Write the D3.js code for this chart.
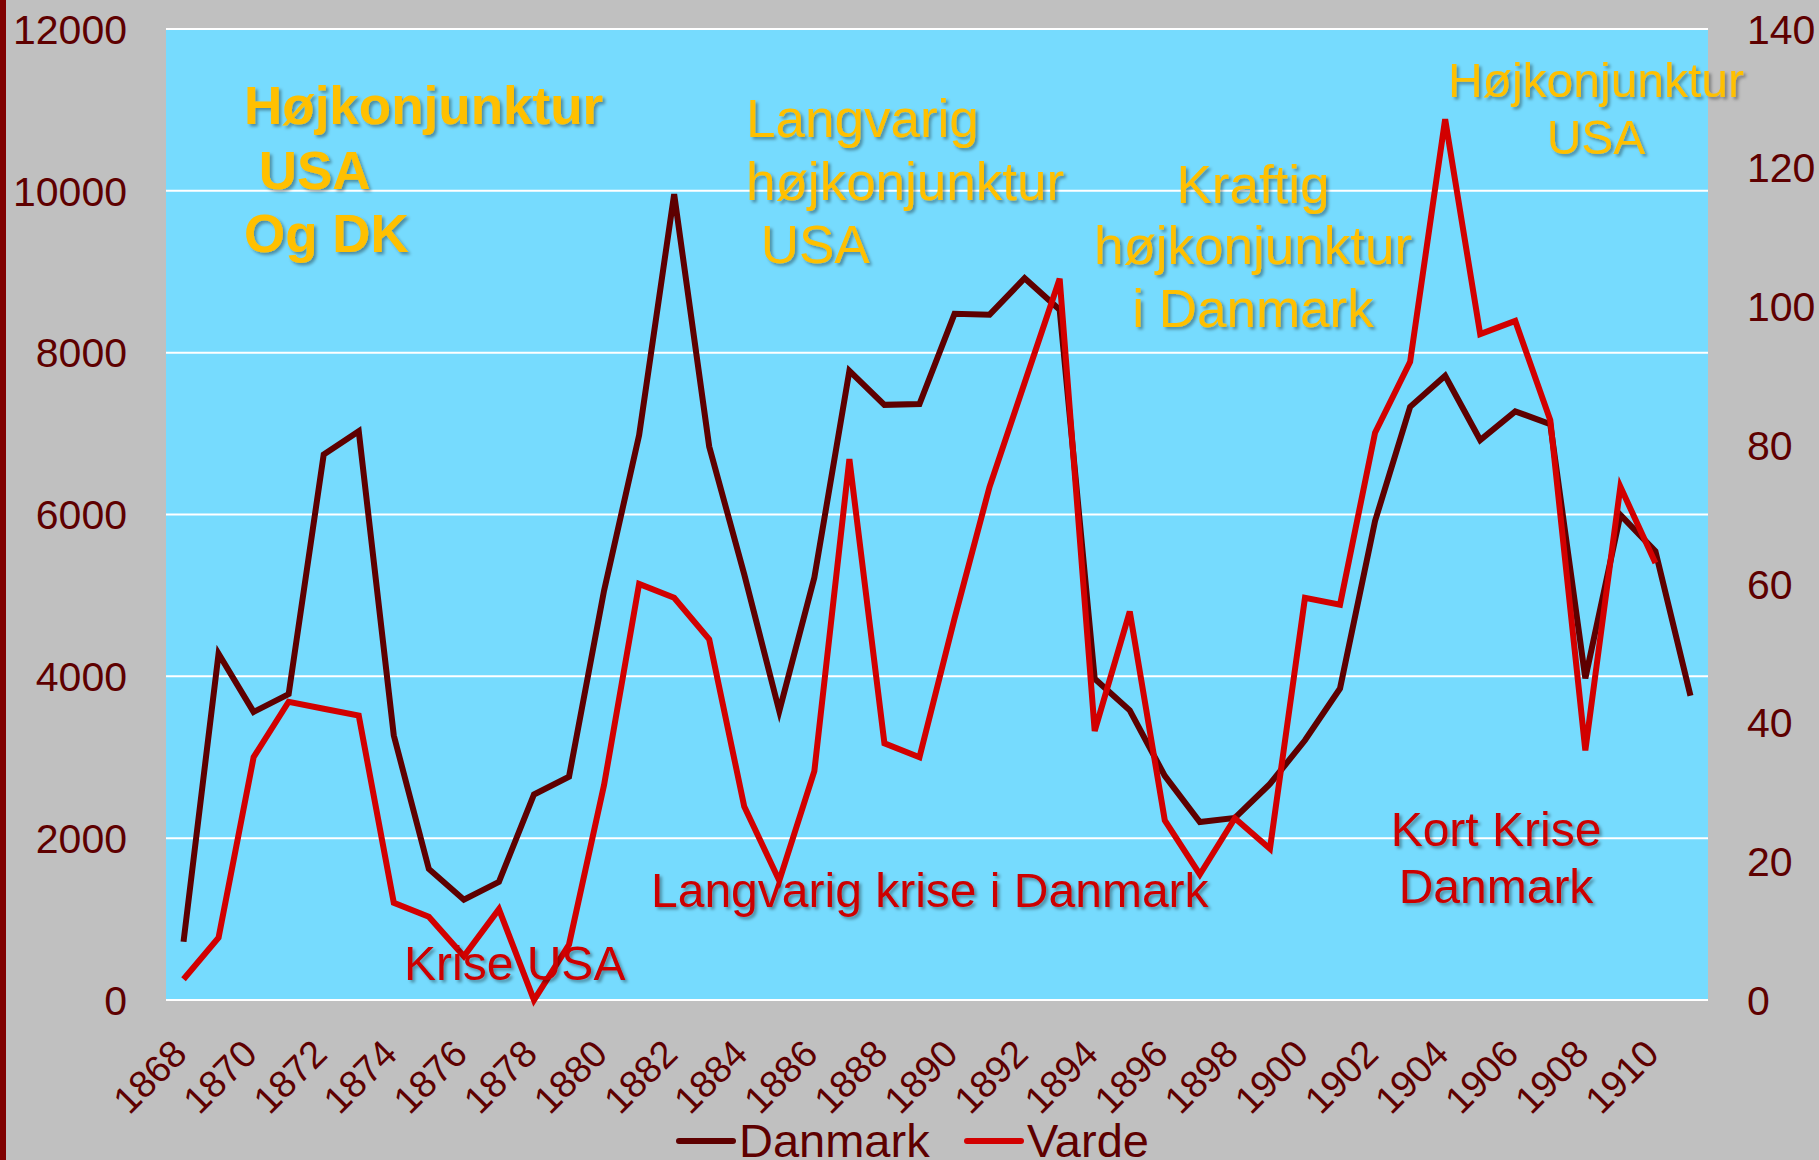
<!DOCTYPE html>
<html>
<head>
<meta charset="utf-8">
<script src="https://cdn.jsdelivr.net/npm/d3@7/dist/d3.min.js"></script>
<style>
body { margin: 0; background: #c0c0c0; }
text { font-family: "Liberation Sans", Arial, sans-serif; }
</style>
</head>
<body>
<svg id="chart"></svg>
<script>
var width = 1819;
var height = 1160;

var margin = {top: 29, right: 111, bottom: 160, left: 166};

// data
var years = [1868, 1869, 1870, 1871, 1872, 1873, 1874, 1875, 1876, 1877, 1878,
	1879, 1880, 1881, 1882, 1883, 1884, 1885, 1886, 1887, 1888, 1889, 1890,
	1891, 1892, 1893, 1894, 1895, 1896, 1897, 1898, 1899, 1900, 1901, 1902,
	1903, 1904, 1905, 1906, 1907, 1908, 1909, 1910, 1911];

var danmark = [720, 4280, 3560, 3780, 6740, 7030, 3270, 1620, 1240, 1460, 2540,
	2760, 5060, 6980, 9960, 6840, 5260, 3570, 5220, 7775, 7355, 7365, 8480,
	8470, 8920, 8530, 3970, 3580, 2770, 2200, 2250, 2670, 3210, 3850, 5920,
	7330, 7715, 6920, 7275, 7115, 3975, 5995, 5545, 3760];

var varde = [3.0, 9.0, 35.0, 43.0, 42.0, 41.0, 14.0, 12.0, 6.3, 13.1, 0.0,
	8.0, 31.0, 60.0, 58.0, 52.0, 27.9, 17.2, 33.0, 78.0, 37.0, 35.0, 55.0,
	74.0, 89.0, 104.0, 38.8, 56.0, 25.9, 18.1, 26.2, 21.8, 58.0, 57.0, 81.8,
	92.0, 127.0, 96.0, 97.9, 83.6, 36.0, 74.0, 63.0];

var leftTicks = [0, 2000, 4000, 6000, 8000, 10000, 12000];
var rightTicks = [0, 20, 40, 60, 80, 100, 120, 140];
var labelYears = [1868, 1870, 1872, 1874, 1876, 1878, 1880, 1882, 1884, 1886,
	1888, 1890, 1892, 1894, 1896, 1898, 1900, 1902, 1904, 1906, 1908, 1910];

var seriesNames = ["Danmark", "Varde"];
var seriesColors = ["#5e0000", "#d20000"];

var axisColor = "#5e0000";
var gold = "#ffc000";
var red = "#cc0000";

var svg = d3.select("#chart")
.attr("width", width)
.attr("height", height);

var defs = svg.append("defs");
var shadow = defs.append("filter")
.attr("id", "shadow")
.attr("x", "-10%").attr("y", "-20%")
.attr("width", "130%").attr("height", "150%");
shadow.append("feDropShadow")
.attr("dx", 2.5).attr("dy", 2.5)
.attr("stdDeviation", 1.5)
.attr("flood-color", "#000")
.attr("flood-opacity", 0.35);

svg.append("rect")
.attr("width", width)
.attr("height", height)
.style("fill", "#c0c0c0");

svg.append("rect")
.attr("width", 6)
.attr("height", height)
.style("fill", "#800000");

var plotW = width - margin.left - margin.right;
var plotH = height - margin.top - margin.bottom;

var x = d3.scaleBand()
.domain(years)
.range([margin.left, margin.left + plotW])
.padding(0);

var yLeft = d3.scaleLinear()
.domain([0, 12000])
.range([margin.top + plotH, margin.top]);

var yRight = d3.scaleLinear()
.domain([0, 140])
.range([margin.top + plotH, margin.top]);

svg.append("rect")
.attr("x", margin.left)
.attr("y", margin.top)
.attr("width", plotW)
.attr("height", plotH)
.style("fill", "#76dbfe");

// gridlines
svg.selectAll(".grid")
.data(leftTicks)
.enter().append("line")
.attr("class", "grid")
.attr("x1", margin.left)
.attr("x2", margin.left + plotW)
.attr("y1", function (d) { return yLeft(d); })
.attr("y2", function (d) { return yLeft(d); })
.style("stroke", "#ffffff")
.style("stroke-width", 2);

// left axis labels
svg.selectAll(".ltick")
.data(leftTicks)
.enter().append("text")
.attr("class", "ltick")
.attr("x", 127)
.attr("y", function (d) { return yLeft(d); })
.attr("dy", "0.36em")
.style("text-anchor", "end")
.style("font-size", "41px")
.style("fill", axisColor)
.text(function (d) { return d; });

// right axis labels
svg.selectAll(".rtick")
.data(rightTicks)
.enter().append("text")
.attr("class", "rtick")
.attr("x", 1747)
.attr("y", function (d) { return yRight(d); })
.attr("dy", "0.36em")
.style("text-anchor", "start")
.style("font-size", "41px")
.style("fill", axisColor)
.text(function (d) { return d; });

// x labels
svg.selectAll(".xtick")
.data(labelYears)
.enter().append("text")
.attr("class", "xtick")
.attr("transform", function (d) {
	return "translate(" + (x(d) + x.bandwidth() / 2 + 5.5) + ",1056) rotate(-45)";
})
.style("text-anchor", "end")
.style("font-size", "38px")
.style("fill", axisColor)
.text(function (d) { return d; });

// lines
var lineLeft = d3.line()
.x(function (d, i) { return x(years[i]) + x.bandwidth() / 2; })
.y(function (d) { return yLeft(d); });

var lineRight = d3.line()
.x(function (d, i) { return x(years[i]) + x.bandwidth() / 2; })
.y(function (d) { return yRight(d); });

svg.append("path")
.datum(danmark)
.attr("d", lineLeft)
.style("fill", "none")
.style("stroke", seriesColors[0])
.style("stroke-width", 6);

svg.append("path")
.datum(varde)
.attr("d", lineRight)
.style("fill", "none")
.style("stroke", seriesColors[1])
.style("stroke-width", 6);

// annotations
function note(lines, px, baselines, size, weight, color, anchor) {
	var t = svg.append("text")
	.attr("filter", "url(#shadow)")
	.style("font-size", size + "px")
	.style("font-weight", weight)
	.style("fill", color)
	.style("text-anchor", anchor)
	.style("white-space", "pre");
	lines.forEach(function (s, i) {
		t.append("tspan")
		.attr("x", px)
		.attr("y", baselines[i])
		.text(s);
	});
}

note(["Højkonjunktur", " USA", "Og DK"], 244, [124, 189, 252], 53, "bold", gold, "start");
note(["Langvarig", "højkonjunktur", " USA"], 746, [137, 200, 263], 53, "normal", gold, "start");
note(["Kraftig", "højkonjunktur", "i Danmark"], 1253, [203, 264, 327], 53, "normal", gold, "middle");
note(["Højkonjunktur", "USA"], 1596, [97, 154], 48, "normal", gold, "middle");
note(["Krise USA"], 404, [980], 48, "normal", red, "start");
note(["Langvarig krise i Danmark"], 651, [907], 48, "normal", red, "start");
note(["Kort Krise", "Danmark"], 1496, [846, 903], 48, "normal", red, "middle");

// legend
var legendX = [679, 967];
var legend = svg.selectAll(".legend")
.data(seriesNames)
.enter().append("g")
.attr("class", "legend")
.attr("transform", function (d, i) { return "translate(" + legendX[i] + ",1141)"; });

legend.append("line")
.attr("x1", 0)
.attr("x2", 54)
.style("stroke", function (d, i) { return seriesColors[i]; })
.style("stroke-width", 6)
.style("stroke-linecap", "round");

legend.append("text")
.attr("x", 60)
.attr("y", 16)
.style("font-size", "47px")
.style("fill", axisColor)
.text(function (d) { return d; });
</script>
</body>
</html>
